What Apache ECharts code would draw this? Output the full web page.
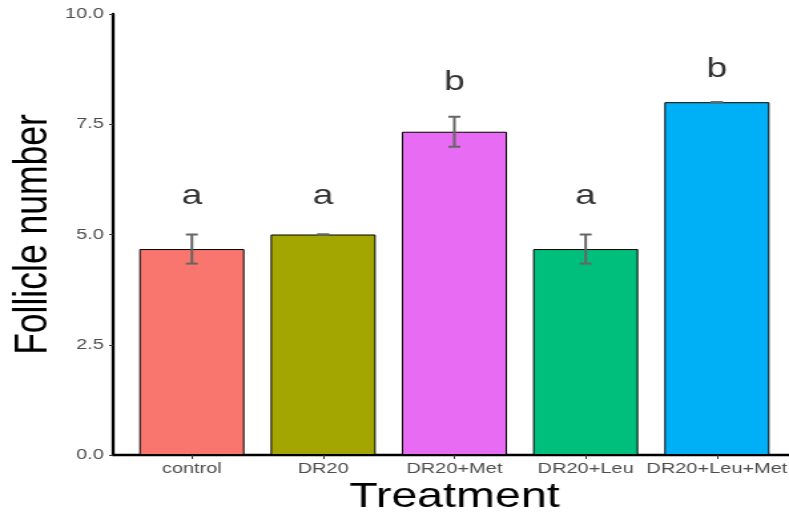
<!DOCTYPE html>
<html><head><meta charset="utf-8">
<script src="https://cdn.jsdelivr.net/npm/echarts@6/dist/echarts.min.js"></script>
<style>
html,body{margin:0;padding:0;background:#fff;overflow:hidden}
#wrap{width:789px;height:515px;overflow:hidden}
#c{width:593px;height:515px;transform:scaleX(1.3305);transform-origin:0 0}
</style>
</head><body><div id="wrap"><div id="c"></div></div>
<script>
const categories = ["control","DR20","DR20+Met","DR20+Leu","DR20+Leu+Met"];
const means = [4.67, 5.0, 7.33, 4.67, 8.0];
const errors = [0.33, 0.0, 0.34, 0.33, 0.0];
const letters = ["a","a","b","a","b"];
const letterY = [5.86, 5.86, 8.45, 5.86, 8.75];
const colors = ["#F8766D","#A3A500","#E76BF3","#00BF7D","#00B0F6"];
const yTicks = [0, 2.5, 5, 7.5, 10];

const FONT = "Liberation Sans, Arial, sans-serif";
const pos = categories.map((c,i)=>i+1);
const chart = echarts.init(document.getElementById('c'), null, {renderer:'canvas'});
chart.setOption({
  animation:false,
  backgroundColor:'#fff',
  grid:{left:85, top:14, bottom:60, right:-5, containLabel:false, outerBoundsMode:'none'},
  xAxis:{
    type:'value', min:0.4, max:5.6,
    name:'Treatment', nameLocation:'middle', nameGap:25, nameMoveOverlap:false,
    nameTextStyle:{fontSize:35, color:'#000', fontFamily:FONT},
    axisLine:{show:true, lineStyle:{color:'#000', width:2.4}},
    axisTick:{show:true, customValues:pos, length:4, lineStyle:{color:'#333', width:1}},
    axisLabel:{show:true, customValues:pos, color:'#4D4D4D', fontSize:15, fontFamily:FONT, margin:6,
      formatter:v=>categories[Math.round(v)-1]},
    splitLine:{show:false}
  },
  yAxis:{
    type:'value', min:0, max:10, interval:2.5,
    name:'Follicle number', nameLocation:'middle', nameGap:41.5, nameMoveOverlap:false,
    nameTextStyle:{fontSize:35.5, color:'#000', fontFamily:FONT},
    axisLine:{show:true, lineStyle:{color:'#000', width:2.3}},
    axisTick:{show:true, length:3, lineStyle:{color:'#333', width:1}},
    axisLabel:{color:'#4D4D4D', fontSize:15, fontFamily:FONT, margin:7,
      customValues:yTicks, formatter:v=>v.toFixed(1)},
    splitLine:{show:false}
  },
  series:[
    {
      type:'bar', barWidth:79,
      data: means.map((m,i)=>({value:[pos[i], m], itemStyle:{color:colors[i], borderColor:'#000', borderWidth:1}}))
    },
    {
      type:'custom',
      data: means.map((m,i)=>[pos[i], m-errors[i], m+errors[i]]),
      renderItem:(params, api)=>{
        const x = api.value(0);
        const lo = api.coord([x, api.value(1)]);
        const hi = api.coord([x, api.value(2)]);
        const hw = 4.5;
        const st = {stroke:'#666', lineWidth:2};
        return {type:'group', children:[
          {type:'line', shape:{x1:lo[0], y1:lo[1], x2:hi[0], y2:hi[1]}, style:st},
          {type:'line', shape:{x1:lo[0]-hw, y1:lo[1], x2:lo[0]+hw, y2:lo[1]}, style:st},
          {type:'line', shape:{x1:hi[0]-hw, y1:hi[1], x2:hi[0]+hw, y2:hi[1]}, style:st}
        ]};
      },
      z:5
    },
    {
      type:'scatter', symbolSize:1, itemStyle:{color:'rgba(0,0,0,0)'},
      data: letterY.map((y,i)=>[pos[i], y]),
      label:{show:true, position:'inside', formatter:p=>letters[p.dataIndex],
        fontSize:28, color:'#000', fontFamily:FONT, textBorderWidth:0},
      z:6
    }
  ]
});
</script></body></html>
